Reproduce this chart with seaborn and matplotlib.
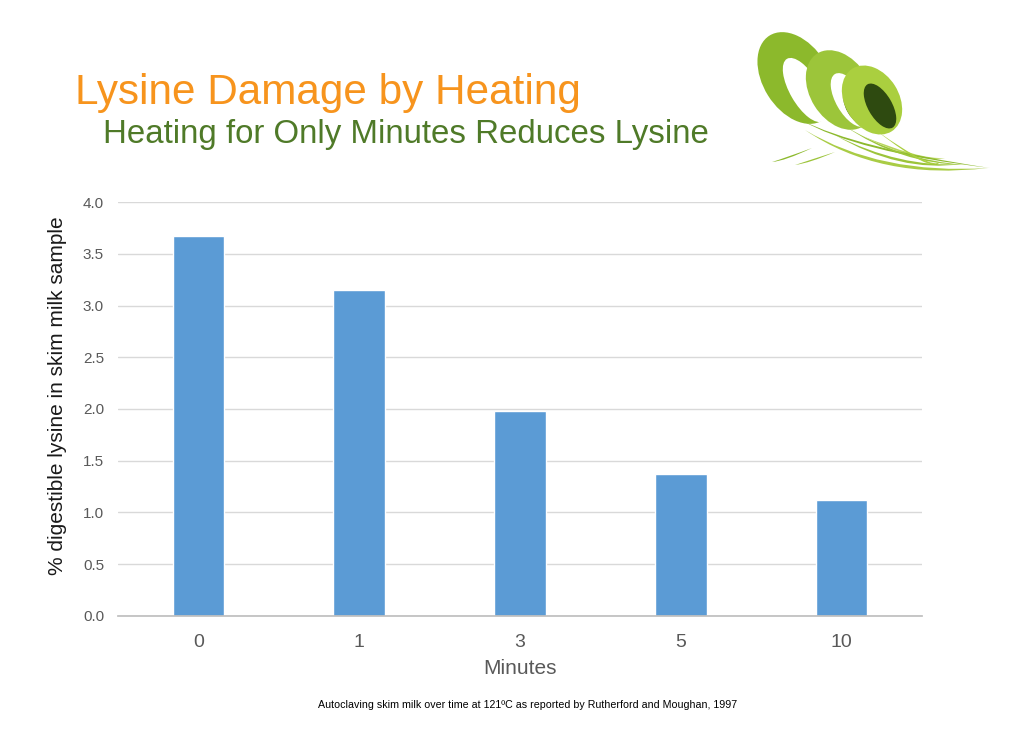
import matplotlib
matplotlib.use("Agg")
import matplotlib.pyplot as plt
import seaborn as sns
import pandas as pd
import numpy as np
from matplotlib.patches import Ellipse, PathPatch
from matplotlib.path import Path

minutes = ["0", "1", "3", "5", "10"]
lysine = [3.67, 3.15, 1.98, 1.37, 1.12]
yticks = [0.0, 0.5, 1.0, 1.5, 2.0, 2.5, 3.0, 3.5, 4.0]

sns.set_theme(style="white")
plt.rcParams['font.family'] = ['Liberation Sans', 'DejaVu Sans']

df = pd.DataFrame({"Minutes": minutes, "Lysine": lysine})

fig = plt.figure(figsize=(10.24, 7.46), dpi=100)
ax = fig.add_axes([0.1152, 0.1743, 0.7852, 0.5549])
sns.barplot(data=df, x="Minutes", y="Lysine", color="#5B9BD5", saturation=1,
            width=0.32, ax=ax, zorder=3)
ax.set_xlim(-0.5, 4.5)
ax.set_ylim(0, 4.0)
ax.set_yticks(yticks)
ax.set_yticklabels([f"{v:.1f}" for v in yticks], fontsize=11, color="#595959")
ax.tick_params(axis='x', labelsize=14, labelcolor="#595959", length=0, pad=13)
ax.tick_params(axis='y', length=0, pad=10)
ax.grid(axis='y', color="#D9D9D9", linewidth=1, zorder=0)
for s in ["top", "right", "left"]:
    ax.spines[s].set_visible(False)
ax.spines["bottom"].set_color("#BFBFBF")
ax.spines["bottom"].set_zorder(4)
ax.set_xlabel("Minutes", fontsize=15, color="#595959", labelpad=6)
ax.set_ylabel("% digestible lysine in skim milk sample", fontsize=15, color="#1a1a1a")
ax.yaxis.set_label_coords(-0.0634, 0.531)

fig.text(0.073, 0.86, "Lysine Damage by Heating", fontsize=30.4, color="#F7941D",
         ha="left", va="baseline")
fig.text(0.1005, 0.808, "Heating for Only Minutes Reduces Lysine", fontsize=23.8,
         color="#4F7A28", ha="left", va="baseline")
fig.text(0.515, 0.0515, "Autoclaving skim milk over time at 121ºC as reported by Rutherford and Moughan, 1997",
         fontsize=7.7, color="#000000", ha="center", va="baseline")

# Logo (decorative swooshes), drawn in image-pixel coordinates
x0, x1, y0, y1 = 740, 1010, 20, 180
lax = fig.add_axes([x0 / 1024, 1 - y1 / 746, (x1 - x0) / 1024, (y1 - y0) / 746])
lax.set_xlim(x0, x1)
lax.set_ylim(y1, y0)
lax.axis("off")


def tail(p0, c, p1, width, color, z):
    # tapered swoosh: two quadratic curves sharing ends
    c2 = (c[0], c[1] + width)
    verts = [p0, c, p1, c2, p0]
    codes = [Path.MOVETO, Path.CURVE3, Path.CURVE3, Path.CURVE3, Path.CURVE3]
    lax.add_patch(PathPatch(Path(verts, codes), facecolor=color, edgecolor="none", zorder=z))


greens = ["#8CB92C", "#9CC53A", "#AACF3F"]
rings = [((796, 78), 66, 100, (805, 90), 30, 72, "#FFFFFF"),
         ((840, 90), 60, 86, (850, 100), 28, 60, "#FFFFFF"),
         ((872, 100), 54, 74, (880, 106), 24, 50, "#2E4A10")]
tail((805, 130), (880, 175), (988, 168), 6, "#A9CC45", 1)
tail((835, 135), (900, 168), (962, 164), 5, "#9CC43A", 1)
tail((860, 135), (920, 160), (945, 158), 4, "#B8D65A", 1)
tail((812, 148), (785, 158), (772, 162), 3, "#8CB92C", 1)
tail((835, 152), (810, 160), (795, 165), 3, "#9CC43A", 1)
for i, ((cx, cy), w, h, (hx, hy), hw, hh, hc) in enumerate(rings):
    lax.add_patch(Ellipse((cx, cy), w, h, angle=-32, facecolor=greens[i],
                          edgecolor="none", zorder=2 + i))
    lax.add_patch(Ellipse((hx, hy), hw, hh, angle=-30, facecolor=hc,
                          edgecolor="none", zorder=2 + i))
    if i == 1:
        lax.add_patch(Ellipse((hx + 5, hy + 8), hw * 0.6, hh * 0.6, angle=-30,
                              facecolor="#2E4A10", edgecolor="none", zorder=2 + i))
    tail((cx + 5, cy + h * 0.42), (cx + 60, cy + 70), (990 - 25 * i, 168 - 3 * i), 4,
         greens[i], 2 + i)

fig.savefig("out.png", dpi=100)
